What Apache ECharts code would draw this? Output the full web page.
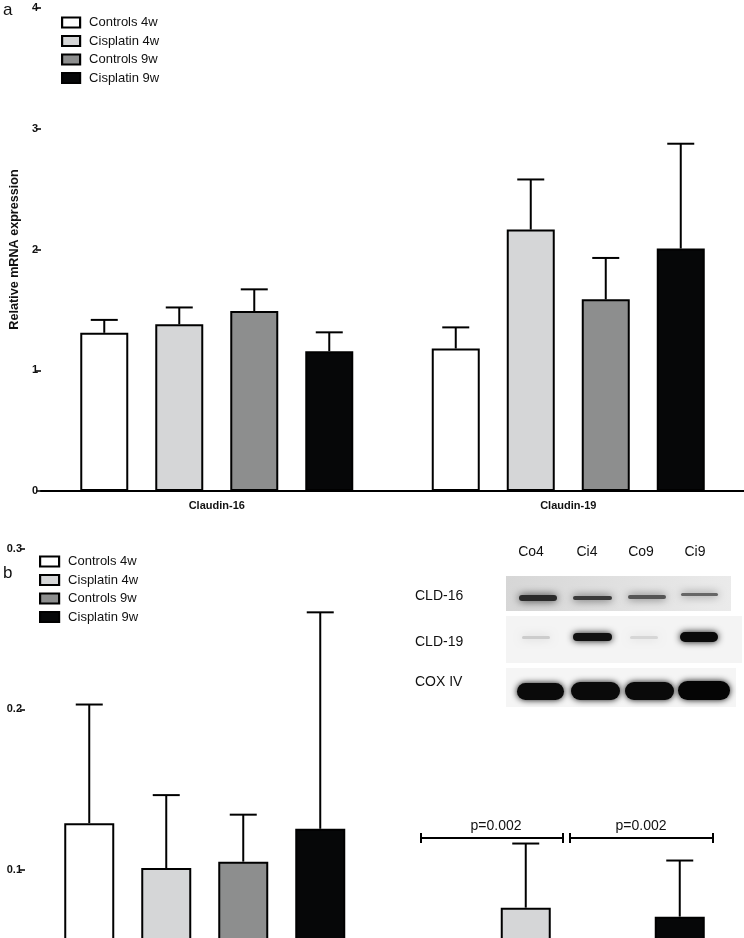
<!DOCTYPE html>
<html>
<head>
<meta charset="utf-8">
<script src="https://cdn.jsdelivr.net/npm/echarts@6/dist/echarts.min.js"></script>
<style>
  html, body { margin: 0; padding: 0; background: #fff; overflow: hidden; height: 938px; }
  /* panel b is cut off at the bottom of the page, as in the original figure */
  #chart { width: 744px; height: 1060px; }
</style>
</head>
<body>
<div id="chart"></div>
<script>
// categories and groups
const categories = ['Claudin-16', 'Claudin-19']
const groups = ['Controls 4w', 'Cisplatin 4w', 'Controls 9w', 'Cisplatin 9w']
const groupColors = ['#ffffff', '#d5d6d7', '#8d8e8e', '#060708']

// panel a: relative mRNA expression (mean, upper SD)
const mrnaCo4 = [1.31, 1.18]
const mrnaCi4 = [1.38, 2.165]
const mrnaCo9 = [1.49, 1.587]
const mrnaCi9 = [1.157, 2.008]
const mrnaErrCo4 = [0.107, 0.175]
const mrnaErrCi4 = [0.14, 0.415]
const mrnaErrCo9 = [0.18, 0.343]
const mrnaErrCi9 = [0.157, 0.868]

// panel b: protein (only the top of the chart is visible)
const protCo4 = [0.129, 0.038]
const protCi4 = [0.101, 0.0763]
const protCo9 = [0.105, 0.035]
const protCi9 = [0.1255, 0.0707]
const protErrCo4 = [0.074, 0.012]
const protErrCi4 = [0.0455, 0.040]
const protErrCo9 = [0.0293, 0.010]
const protErrCi9 = [0.135, 0.035]

// y axis ticks
const mrnaTicks = [0, 1, 2, 3, 4]
const protTicks = [0, 0.1, 0.2, 0.3]

// blot inset
const lanes = ['Co4', 'Ci4', 'Co9', 'Ci9']
const blotRows = ['CLD-16', 'CLD-19', 'COX IV']
const pLabels = ['p=0.002', 'p=0.002']

const mrnaMeans = [mrnaCo4, mrnaCi4, mrnaCo9, mrnaCi9]
const mrnaErrs = [mrnaErrCo4, mrnaErrCi4, mrnaErrCo9, mrnaErrCi9]
const protMeans = [protCo4, protCi4, protCo9, protCi9]
const protErrs = [protErrCo4, protErrCi4, protErrCo9, protErrCi9]

const FONT = 'Liberation Sans, Arial, sans-serif'
const A = { barW: 48, gap: 27, cap: 27 }
const B = { barW: 50, gap: 27, cap: 27 }

const errRender = (offset, capW) => (params, api) => {
  const cat = api.value(0)
  const base = api.coord([cat, api.value(1)])
  const top = api.coord([cat, api.value(2)])
  const x = base[0] + offset
  const st = { stroke: '#000', lineWidth: 2 }
  return {
    type: 'group',
    children: [
      { type: 'line', shape: { x1: x, y1: base[1], x2: x, y2: top[1] }, style: st },
      { type: 'line', shape: { x1: x - capW / 2, y1: top[1], x2: x + capW / 2, y2: top[1] }, style: st },
    ],
  }
}

const buildSeries = (gridIdx, means, errs, cfg) => {
  const out = []
  const step = cfg.barW + cfg.gap
  means.forEach((vals, i) => {
    out.push({
      type: 'bar',
      name: groups[i],
      xAxisIndex: gridIdx,
      yAxisIndex: gridIdx,
      data: vals,
      barWidth: cfg.barW,
      barGap: (cfg.gap / cfg.barW * 100) + '%',
      itemStyle: { color: groupColors[i], borderColor: '#000', borderWidth: 2 },
      emphasis: { disabled: true },
      z: 2,
    })
  })
  means.forEach((vals, i) => {
    out.push({
      type: 'custom',
      name: groups[i],
      xAxisIndex: gridIdx,
      yAxisIndex: gridIdx,
      data: vals.map((v, k) => [k, v, v + errs[i][k]]),
      renderItem: errRender((i - 1.5) * step, cfg.cap),
      z: 3,
      silent: true,
    })
  })
  return out
}

const axisCommon = {
  axisLine: { lineStyle: { color: '#000', width: 2 } },
  axisTick: { length: 5, lineStyle: { color: '#000', width: 1.5 } },
  splitLine: { show: false },
}

const legendCommon = {
  orient: 'vertical',
  data: groups,
  padding: 0,
  itemWidth: 18,
  itemHeight: 10,
  itemGap: 5.5,
  icon: 'rect',
  itemStyle: { borderColor: '#000', borderWidth: 2.2 },
  textStyle: { fontFamily: FONT, fontSize: 13, color: '#111', padding: [0, 0, 0, 4] },
  selectedMode: false,
}

// blot inset graphics (not data marks)
const band = (x, y, w, h, color, blur) => ({
  type: 'rect',
  shape: { x: x, y: y, width: w, height: h, r: h / 2 },
  style: { fill: color, shadowBlur: blur, shadowColor: color },
})
const laneX = [531, 587, 641, 695]
const txt = (text, x, y, align, size) => ({
  type: 'text',
  x: x, y: y,
  style: { text: text, fill: '#111', font: (size || 14) + 'px ' + FONT, textAlign: align || 'center', textVerticalAlign: 'middle' },
})
const bracket = (x1, x2, y) => ({
  type: 'group',
  children: [
    { type: 'line', shape: { x1: x1, y1: y, x2: x2, y2: y }, style: { stroke: '#000', lineWidth: 2 } },
    { type: 'line', shape: { x1: x1, y1: y - 5, x2: x1, y2: y + 5 }, style: { stroke: '#000', lineWidth: 2 } },
    { type: 'line', shape: { x1: x2, y1: y - 5, x2: x2, y2: y + 5 }, style: { stroke: '#000', lineWidth: 2 } },
  ],
})

const graphics = [
  txt('a', 3, 10, 'left', 17),
  txt('b', 3, 573, 'left', 17),
  ...lanes.map((l, i) => txt(l, laneX[i], 552)),
  ...blotRows.map((r, i) => txt(r, 415, [596, 642, 682][i], 'left')),
  // CLD-16 panel
  {
    type: 'rect', shape: { x: 506, y: 576, width: 225, height: 35 },
    style: { fill: new echarts.graphic.LinearGradient(0, 0, 1, 1, [{ offset: 0, color: '#d6d6d6' }, { offset: 1, color: '#ebebeb' }]) },
  },
  band(519, 595, 38, 6, '#2a2a2a', 8),
  band(573, 596, 39, 4, '#3a3a3a', 8),
  band(628, 595, 38, 4, '#555555', 8),
  band(681, 593, 37, 3, '#666666', 8),
  // CLD-19 panel
  { type: 'rect', shape: { x: 506, y: 616, width: 236, height: 47 }, style: { fill: '#f4f4f4' } },
  band(522, 636, 28, 3, '#cccccc', 8),
  band(573, 633, 39, 8, '#111111', 7),
  band(630, 636, 28, 3, '#d6d6d6', 8),
  band(680, 632, 38, 10, '#0a0a0a', 7),
  // COX IV panel
  { type: 'rect', shape: { x: 506, y: 668, width: 230, height: 39 }, style: { fill: '#f5f5f5' } },
  band(517, 683, 47, 17, '#0a0a0a', 6),
  band(571, 682, 49, 18, '#0a0a0a', 6),
  band(625, 682, 49, 18, '#0a0a0a', 6),
  band(678, 681, 52, 19, '#050505', 6),
  // significance brackets
  bracket(421, 563, 838),
  bracket(570, 713, 838),
  txt(pLabels[0], 496, 826),
  txt(pLabels[1], 641, 826),
]

const chart = echarts.init(document.getElementById('chart'))
chart.setOption({
  backgroundColor: '#fff',
  animation: false,
  grid: [
    { left: 40, top: 8, width: 704, height: 483 },
    { left: 25, top: 549, width: 725, height: 481 },
  ],
  legend: [
    { ...legendCommon, left: 61, top: 16 },
    { ...legendCommon, left: 39, top: 555, itemWidth: 19 },
  ],
  xAxis: [
    {
      ...axisCommon, type: 'category', gridIndex: 0, data: categories,
      axisTick: { ...axisCommon.axisTick, alignWithLabel: true },
      axisLabel: { color: '#111', fontFamily: FONT, fontSize: 11, fontWeight: 'bold', margin: 9 },
    },
    {
      ...axisCommon, type: 'category', gridIndex: 1, data: categories,
      axisTick: { ...axisCommon.axisTick, alignWithLabel: true },
      axisLabel: { color: '#111', fontFamily: FONT, fontSize: 11, fontWeight: 'bold' },
    },
  ],
  yAxis: [
    {
      ...axisCommon, type: 'value', gridIndex: 0,
      min: mrnaTicks[0], max: mrnaTicks[mrnaTicks.length - 1], interval: 1,
      axisTick: { ...axisCommon.axisTick, show: true },
      axisLabel: { color: '#111', fontFamily: FONT, fontSize: 11, fontWeight: 'bold', margin: 3 },
      name: 'Relative mRNA expression', nameLocation: 'middle', nameGap: 16, nameRotate: 90,
      nameTextStyle: { color: '#111', fontFamily: FONT, fontSize: 12.6, fontWeight: 'bold' },
    },
    {
      ...axisCommon, type: 'value', gridIndex: 1,
      min: protTicks[0], max: protTicks[protTicks.length - 1], interval: 0.1,
      axisTick: { ...axisCommon.axisTick, show: true },
      axisLabel: { color: '#111', fontFamily: FONT, fontSize: 11, fontWeight: 'bold', margin: 3 },
    },
  ],
  series: [
    ...buildSeries(0, mrnaMeans, mrnaErrs, A),
    ...buildSeries(1, protMeans, protErrs, B),
  ],
  graphic: graphics,
})
</script>
</body>
</html>
